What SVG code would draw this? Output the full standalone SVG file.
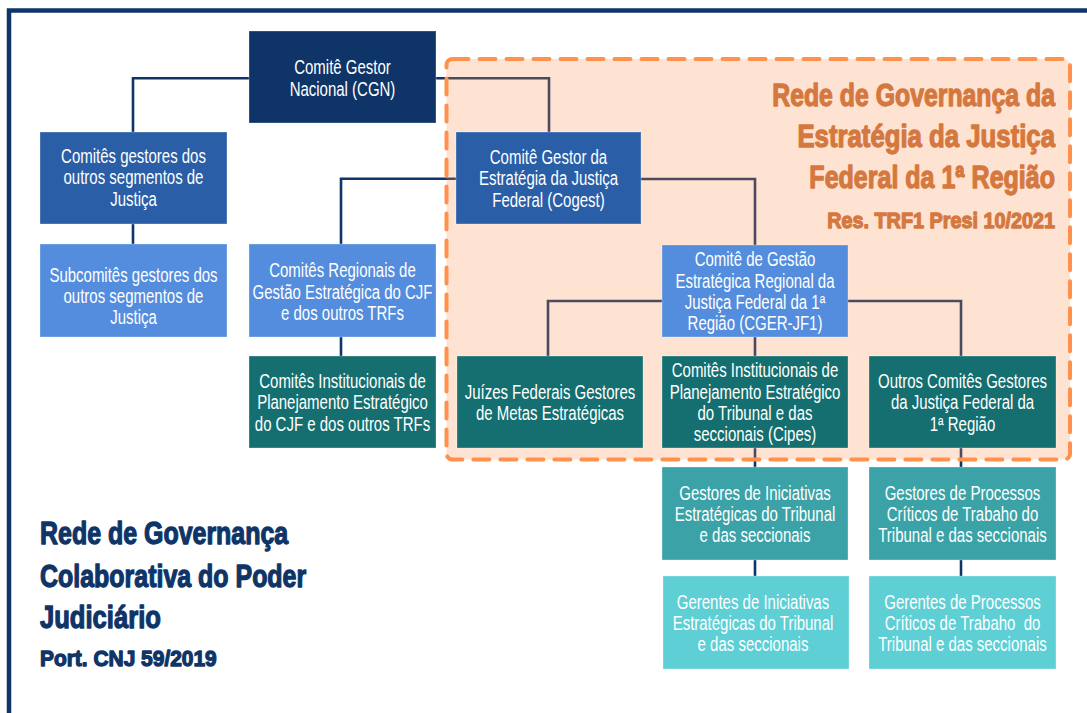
<svg xmlns="http://www.w3.org/2000/svg" width="1087" height="713" viewBox="0 0 1087 713">
<defs>
<style>
.t{font-family:"Liberation Sans",Arial,sans-serif;font-size:19.3px;fill:#ffffff;text-anchor:middle}
.b{stroke:#ffffff;stroke-opacity:0.3;stroke-width:1}
.navy{fill:#0f3467}
.mid{fill:#2a5ea7}
.lb{fill:#548ddd}
.dt{fill:#156f71}
.mt{fill:#3ba3a7}
.lc{fill:#5dcfd5}
.ln{fill:none;stroke:#0f3467;stroke-width:2.6}
.ttl{font-family:"Liberation Sans",Arial,sans-serif;font-weight:bold;stroke-width:1.3;stroke-linejoin:round}
.or{fill:#d5783f;stroke:#d5783f;text-anchor:end}
.nv{fill:#0f3467;stroke:#0f3467;text-anchor:start}
</style>
</defs>
<rect width="1087" height="713" fill="#ffffff"/>
<path d="M9 713 V10.5 H1087" fill="none" stroke="#0f3467" stroke-width="4.5"/>

<g id="connectors" class="ln">
<path d="M249 78.3 H133 V132"/>
<path d="M133 224 V244"/>
<path d="M436 78.3 H549 V132"/>
<path d="M456 178.7 H341 V244"/>
<path d="M341 337 V356"/>
<path d="M641 179 H755 V245"/>
<path d="M662 301 H548 V356"/>
<path d="M848 301 H961 V356"/>
<path d="M755 337 V356"/>
<path d="M755 448 V467"/>
<path d="M961 448 V467"/>
<path d="M755 560 V576"/>
<path d="M961 560 V576"/>
</g>

<g id="rede-trf1">
<rect x="446.5" y="59" width="623.5" height="400.5" rx="6" fill="#ff914d" fill-opacity="0.25" stroke="#ff914d" stroke-width="4" stroke-dasharray="16 11" stroke-linecap="round"/>
<text class="ttl or" font-size="32" transform="translate(1055 106) scale(0.776 1)">Rede de Governança da</text>
<text class="ttl or" font-size="32" transform="translate(1055 147) scale(0.805 1)">Estratégia da Justiça</text>
<text class="ttl or" font-size="32" transform="translate(1055 188) scale(0.782 1)">Federal da 1ª Região</text>
<text class="ttl or" font-size="22.5" transform="translate(1055 228) scale(0.88 1)">Res. TRF1 Presi 10/2021</text>
</g>

<g id="rede-cnj">
<text class="ttl nv" font-size="32" transform="translate(40 544) scale(0.78 1)">Rede de Governança</text>
<text class="ttl nv" font-size="32" transform="translate(40 587) scale(0.78 1)">Colaborativa do Poder</text>
<text class="ttl nv" font-size="32" transform="translate(40 628) scale(0.8 1)">Judiciário</text>
<text class="ttl nv" font-size="22.5" transform="translate(40 666) scale(0.93 1)">Port. CNJ 59/2019</text>
</g>

<g id="cgn">
<rect class="navy b" x="249" y="31" width="187" height="92"/>
<text class="t" transform="translate(342.5 0) scale(0.777 1)"><tspan x="0" y="74.5">Comitê Gestor</tspan><tspan x="0" y="95.8">Nacional (CGN)</tspan></text>
</g>

<g id="gestores-outros">
<rect class="mid b" x="40" y="132" width="187" height="92"/>
<text class="t" transform="translate(133.5 0) scale(0.777 1)"><tspan x="0" y="163">Comitês gestores dos</tspan><tspan x="0" y="184.3">outros segmentos de</tspan><tspan x="0" y="205.6">Justiça</tspan></text>
</g>

<g id="subcomites">
<rect class="lb b" x="40" y="244" width="187" height="93"/>
<text class="t" transform="translate(133.5 0) scale(0.777 1)"><tspan x="0" y="282">Subcomitês gestores dos</tspan><tspan x="0" y="303">outros segmentos de</tspan><tspan x="0" y="324">Justiça</tspan></text>
</g>

<g id="regionais">
<rect class="lb b" x="249" y="244" width="187" height="93"/>
<text class="t" transform="translate(342.5 0) scale(0.777 1)"><tspan x="0" y="277.5">Comitês Regionais de</tspan><tspan x="0" y="298.8">Gestão Estratégica do CJF</tspan><tspan x="0" y="320">e dos outros TRFs</tspan></text>
</g>

<g id="institucionais-cjf">
<rect class="dt b" x="249" y="356" width="187" height="92"/>
<text class="t" transform="translate(342.5 0) scale(0.777 1)"><tspan x="0" y="388.2">Comitês Institucionais de</tspan><tspan x="0" y="409.5">Planejamento Estratégico</tspan><tspan x="0" y="430.8">do CJF e dos outros TRFs</tspan></text>
</g>

<g id="cogest">
<rect class="mid b" x="456" y="132" width="185" height="92"/>
<text class="t" transform="translate(548.5 0) scale(0.777 1)"><tspan x="0" y="164.2">Comitê Gestor da</tspan><tspan x="0" y="185.5">Estratégia da Justiça</tspan><tspan x="0" y="206.8">Federal (Cogest)</tspan></text>
</g>

<g id="cger-jf1">
<rect class="lb b" x="662" y="245" width="186" height="92"/>
<text class="t" transform="translate(755 0) scale(0.777 1)"><tspan x="0" y="266.5">Comitê de Gestão</tspan><tspan x="0" y="287.8">Estratégica Regional da</tspan><tspan x="0" y="309.2">Justiça Federal da 1ª</tspan><tspan x="0" y="330.5">Região (CGER-JF1)</tspan></text>
</g>

<g id="juizes">
<rect class="dt b" x="457" y="356" width="186" height="92"/>
<text class="t" transform="translate(550 0) scale(0.777 1)"><tspan x="0" y="398.9">Juízes Federais Gestores</tspan><tspan x="0" y="420.2">de Metas Estratégicas</tspan></text>
</g>

<g id="cipes">
<rect class="dt b" x="662" y="356" width="186" height="92"/>
<text class="t" transform="translate(755 0) scale(0.777 1)"><tspan x="0" y="377.5">Comitês Institucionais de</tspan><tspan x="0" y="398.8">Planejamento Estratégico</tspan><tspan x="0" y="420.2">do Tribunal e das</tspan><tspan x="0" y="441.5">seccionais (Cipes)</tspan></text>
</g>

<g id="outros-comites">
<rect class="dt b" x="869" y="356" width="187" height="92"/>
<text class="t" transform="translate(962.5 0) scale(0.777 1)"><tspan x="0" y="388.2">Outros Comitês Gestores</tspan><tspan x="0" y="409.5">da Justiça Federal da</tspan><tspan x="0" y="430.8">1ª Região</tspan></text>
</g>

<g id="gestores-iniciativas">
<rect class="mt b" x="662" y="467" width="186" height="93"/>
<text class="t" transform="translate(755 0) scale(0.777 1)"><tspan x="0" y="499.7">Gestores de Iniciativas</tspan><tspan x="0" y="521">Estratégicas do Tribunal</tspan><tspan x="0" y="542.3">e das seccionais</tspan></text>
</g>

<g id="gestores-processos">
<rect class="mt b" x="869" y="467" width="187" height="93"/>
<text class="t" transform="translate(962.5 0) scale(0.777 1)"><tspan x="0" y="499.7">Gestores de Processos</tspan><tspan x="0" y="521">Críticos de Trabaho do</tspan><tspan x="0" y="542.3">Tribunal e das seccionais</tspan></text>
</g>

<g id="gerentes-iniciativas">
<rect class="lc b" x="663" y="576" width="186" height="93"/>
<text class="t" transform="translate(753 0) scale(0.777 1)"><tspan x="0" y="608.7">Gerentes de Iniciativas</tspan><tspan x="0" y="630">Estratégicas do Tribunal</tspan><tspan x="0" y="651.3">e das seccionais</tspan></text>
</g>

<g id="gerentes-processos">
<rect class="lc b" x="869" y="576" width="187" height="93"/>
<text class="t" transform="translate(962.5 0) scale(0.777 1)"><tspan x="0" y="608.7">Gerentes de Processos</tspan><tspan x="0" y="630">Críticos de Trabaho&#160; do</tspan><tspan x="0" y="651.3">Tribunal e das seccionais</tspan></text>
</g>
</svg>
